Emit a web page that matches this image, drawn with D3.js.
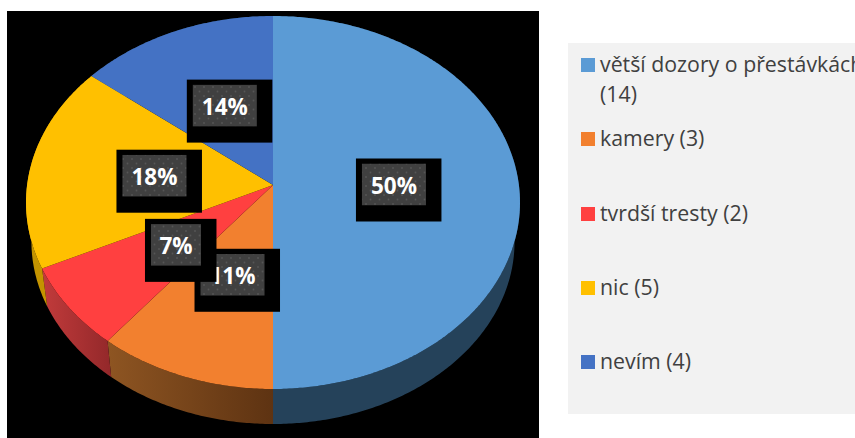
<!DOCTYPE html>
<html><head><meta charset="utf-8">
<script src="https://cdn.jsdelivr.net/npm/d3@7"></script>
<style>html,body{margin:0;padding:0;background:#fff;overflow:hidden}svg{display:block}</style>
</head><body><svg id="c" width="855" height="438"></svg>
<script>
const categories = ["větší dozory o přestávkách", "kamery", "tvrdší tresty", "nic", "nevím"];
const values = [14, 3, 2, 5, 4];
const colors = ["#5B9BD5", "#F2802F", "#FF4040", "#FFC000", "#4472C4"];
const wallFrom = ["#25425A", "#8E5522", "#C23B3B", "#C49400", "#25425A"];
const wallTo = ["#25425A", "#5E3312", "#93282A", "#C49400", "#25425A"];
const labelNudge = [[-2,-0.5],[2,-1.5],[2,0.5],[3,1],[3,0.5]];
const legendLines = [["větší dozory o přestávkách","(14)"],["kamery (3)"],["tvrdší tresty (2)"],["nic (5)"],["nevím (4)"]];
const legendRowY = [58,132,207,281,355];

const svg = d3.select("#c");
const defs = svg.append("defs");
const pat = defs.append("pattern").attr("id","dots").attr("patternUnits","userSpaceOnUse").attr("width",9).attr("height",9);
pat.append("rect").attr("width",9).attr("height",9).attr("fill","#404040");
[[1.5,1.5],[6,6]].forEach(p=>pat.append("circle").attr("cx",p[0]).attr("cy",p[1]).attr("r",.9).attr("fill","#565656"));

svg.append("rect").attr("x",7).attr("y",11).attr("width",532).attr("height",427).attr("fill","#000");

// perspective projection of the pie disc
const cx=273, cy=185, k=0.0938, A=184.85, B=245.9, wallScale=0.978, wallDrop=39.5;
const proj=(a,r=1,s=1,drop=0)=>{const u=Math.sin(a)*r,v=Math.cos(a)*r,d=1+k*v;
  return [cx+s*B*u/d, cy-s*A*v/d+drop];};
const arcs=d3.pie().sort(null).value(d=>d)(values);
const samples=(a0,a1)=>{const n=Math.max(2,Math.ceil((a1-a0)/0.01));return d3.range(n+1).map(i=>a0+(a1-a0)*i/n);};
const line=d3.line();

// walls
arcs.forEach((d,i)=>{
  const ang=samples(d.startAngle,d.endAngle);
  const top=ang.map(a=>proj(a));
  const bot=ang.slice().reverse().map(a=>proj(a,1,wallScale,wallDrop));
  const g=defs.append("linearGradient").attr("id","w"+i).attr("gradientUnits","userSpaceOnUse");
  const xs=top.concat(bot).map(p=>p[0]);
  g.attr("x1",d3.min(xs)).attr("x2",d3.max(xs)).attr("y1",0).attr("y2",0);
  g.append("stop").attr("offset",0).attr("stop-color",wallFrom[i]);
  g.append("stop").attr("offset",1).attr("stop-color",wallTo[i]);
  svg.append("path").attr("d",line(top.concat(bot))+"Z").attr("fill",`url(#w${i})`);
});
// top faces
arcs.forEach((d,i)=>{
  const pts=[[cx,cy]].concat(samples(d.startAngle,d.endAngle).map(a=>proj(a)));
  svg.append("path").attr("d",line(pts)+"Z").attr("fill",colors[i]);
});
// data labels
const fmt=d3.format(".0%"), total=d3.sum(values);
arcs.forEach((d,i)=>{
  const p=proj((d.startAngle+d.endAngle)/2,.5);
  const x=p[0]+labelNudge[i][0], y=p[1]+labelNudge[i][1];
  const g=svg.append("g");
  const t=g.append("text").attr("x",x).attr("y",y+9.5).attr("text-anchor","middle")
    .attr("font-family","Open Sans").attr("font-weight",700).attr("font-size",22.5).attr("fill","#fff")
    .text(fmt(d.value/total));
  const w=d.value<3?50:64;
  g.insert("rect","text").attr("x",x-w/2-6).attr("y",y-26).attr("width",w+21.5).attr("height",63).attr("fill","#000");
  g.insert("rect","text").attr("x",x-w/2).attr("y",y-20.75).attr("width",w).attr("height",41.5).attr("fill","url(#dots)");
});
// legend
svg.append("rect").attr("x",568).attr("y",43).attr("width",287).attr("height",371).attr("fill","#F2F2F2");
categories.forEach((c,i)=>{
  const y=legendRowY[i];
  svg.append("rect").attr("x",581).attr("y",y).attr("width",14).attr("height",14).attr("fill",colors[i]);
  legendLines[i].forEach((l,j)=>svg.append("text").attr("x",600).attr("y",y+14+j*30)
    .attr("font-family","Open Sans").attr("font-size",21.3).attr("fill","#404040").text(l));
});
</script></body></html>
